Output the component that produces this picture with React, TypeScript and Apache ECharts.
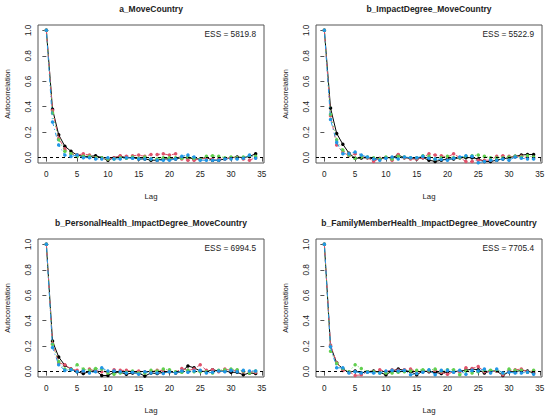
import { useEffect, useRef } from 'react';
import * as echarts from 'echarts';

const FONT = '"Liberation Sans", Arial, sans-serif';

const lags = [0, 1, 2, 3, 4, 5, 6, 7, 8, 9, 10, 11, 12, 13, 14, 15, 16, 17, 18, 19, 20, 21, 22, 23, 24, 25, 26, 27, 28, 29, 30, 31, 32, 33, 34];
const xTicks = [0, 5, 10, 15, 20, 25, 30, 35];
const yTicks = [0, 0.2, 0.4, 0.6, 0.8, 1.0];

const titles = [
  'a_MoveCountry',
  'b_ImpactDegree_MoveCountry',
  'b_PersonalHealth_ImpactDegree_MoveCountry',
  'b_FamilyMemberHealth_ImpactDegree_MoveCountry',
];
const essValues = ['5819.8', '5522.9', '6994.5', '7705.4'];

// a_MoveCountry
const moveBlack = [1, 0.38, 0.18, 0.09, 0.05, 0.02, 0.01, 0.01, 0.015, 0, -0.02, 0, 0.01, 0, 0, -0.01, -0.01, -0.02, -0.02, -0.01, -0.01, -0.01, 0, 0, -0.01, -0.01, 0, -0.02, -0.02, -0.01, 0, 0.005, 0, 0.01, 0.03];
const moveRed = [1, 0.37, 0.15, 0.07, 0.03, 0.02, 0.03, 0.02, 0, -0.005, -0.01, 0, 0.015, 0.01, 0.015, 0.02, 0.01, 0.025, 0.025, 0.03, 0.02, 0.03, -0.01, -0.02, -0.02, -0.01, -0.005, -0.01, -0.01, -0.01, 0, 0, -0.01, -0.02, 0];
const moveGreen = [1, 0.35, 0.14, 0.05, 0.03, 0.01, 0.01, 0.01, 0, 0, -0.01, -0.01, 0, -0.005, 0.005, -0.005, 0.005, -0.01, -0.01, 0, 0, 0, -0.005, 0.005, -0.005, -0.01, 0.01, 0.015, 0.01, 0, 0.005, 0, 0.005, 0.01, 0.01];
const moveBlue = [1, 0.28, 0.1, 0.02, 0.01, 0.02, 0, 0, -0.01, -0.01, 0, -0.01, -0.01, 0, -0.005, -0.01, -0.01, -0.01, -0.02, -0.02, -0.02, -0.01, 0.01, 0.02, 0.005, -0.02, -0.02, -0.02, -0.02, -0.01, -0.01, -0.01, -0.005, 0.02, -0.005];

// b_ImpactDegree_MoveCountry
const impactBlack = [1, 0.39, 0.19, 0.105, 0.035, -0.005, -0.003, 0, -0.01, -0.01, 0, 0, 0.02, 0, -0.005, -0.01, 0, -0.02, -0.03, -0.02, -0.01, -0.01, 0, 0, 0, -0.01, -0.03, -0.03, -0.02, -0.01, 0, 0.01, 0.02, 0.025, 0.025];
const impactRed = [1, 0.33, 0.1, 0.045, 0.015, 0.03, 0.01, 0, -0.03, -0.005, 0, -0.02, 0.025, 0, -0.01, -0.01, 0, 0.03, 0.02, 0.015, 0.005, 0.03, 0, -0.03, -0.03, -0.02, -0.02, -0.02, 0.01, 0.015, 0.01, 0.005, 0.01, 0, 0];
const impactGreen = [1, 0.34, 0.14, 0.06, 0.02, -0.005, 0.005, 0.005, 0, -0.01, 0.005, -0.01, 0.01, 0.005, 0, 0, 0.015, 0.01, -0.01, 0, 0.01, 0, 0, 0.01, 0.015, 0.02, 0.01, 0, 0, 0, 0.005, 0.01, 0.005, 0.015, 0.005];
const impactBlue = [1, 0.3, 0.12, 0.03, 0.03, 0.045, 0.02, 0.005, -0.01, -0.02, -0.005, 0.005, -0.01, 0.005, 0, 0, 0.01, -0.005, -0.01, -0.015, -0.02, -0.005, 0.005, 0.015, 0.01, -0.04, -0.03, -0.02, -0.02, -0.01, -0.02, 0.005, -0.005, -0.01, -0.01];

// b_PersonalHealth_ImpactDegree_MoveCountry
const personalBlack = [1, 0.24, 0.115, 0.05, 0.02, 0, -0.015, 0, 0.01, -0.03, -0.03, -0.005, -0.005, -0.02, -0.01, -0.01, -0.035, -0.01, -0.015, -0.005, 0, -0.01, 0, 0.045, 0.03, 0.005, 0, 0.015, 0.005, 0.005, -0.005, -0.005, -0.025, -0.01, -0.015];
const personalRed = [1, 0.22, 0.07, 0.055, 0.02, 0.01, 0.005, 0.02, 0.005, 0, -0.005, 0.015, 0.01, 0.01, 0, 0.005, 0, 0, 0.01, 0.01, 0.005, -0.005, 0.025, 0.01, 0.02, 0.055, 0.01, 0.015, 0, 0.02, 0.01, 0.01, 0, 0, -0.005];
const personalGreen = [1, 0.215, 0.08, 0.02, 0.015, 0.055, 0.02, 0.01, 0.025, 0.02, -0.01, -0.02, -0.01, -0.005, 0.005, -0.01, -0.01, 0.01, 0.005, 0.02, 0.015, 0, -0.005, 0.01, 0, 0, 0, -0.01, 0.01, 0.015, 0.02, 0.015, 0.005, -0.01, 0.005];
const personalBlue = [1, 0.19, 0.055, 0.01, 0.015, 0, 0.005, -0.01, 0, 0.03, 0.005, 0.005, 0, -0.01, -0.005, -0.02, 0, -0.01, -0.01, -0.015, 0, -0.01, 0.005, -0.005, 0.005, 0.01, -0.01, -0.005, 0.005, 0, 0.01, 0, 0.01, 0.005, 0.005];

// b_FamilyMemberHealth_ImpactDegree_MoveCountry
const familyBlack = [1, 0.2, 0.07, 0.02, -0.005, 0.005, -0.01, 0, 0.005, -0.005, -0.025, 0.005, 0.02, 0.01, 0, -0.025, 0.005, 0, -0.005, -0.015, 0, 0, 0.005, 0.01, 0.02, 0.015, -0.01, 0.005, 0.005, -0.03, 0, 0, 0.01, 0.005, -0.01];
const familyRed = [1, 0.21, 0.07, 0.01, 0, -0.03, -0.025, 0, 0, 0.015, 0, 0.015, 0.01, 0.015, 0.02, 0, 0, 0.005, 0.01, -0.005, -0.02, 0, 0, 0.03, 0.025, 0.04, 0, 0, 0.005, -0.025, 0.005, 0.015, 0.02, 0, 0.005];
const familyGreen = [1, 0.16, 0.065, 0.025, 0, 0.055, 0.025, 0, 0, -0.01, -0.01, -0.01, -0.005, 0, 0.005, 0.01, 0.015, 0.01, 0.02, 0.005, 0.015, 0.015, -0.025, 0.005, -0.01, 0, 0.01, 0.01, 0.01, -0.01, 0.02, 0.01, 0.01, -0.005, 0.01];
const familyBlue = [1, 0.195, 0.03, 0.03, -0.01, 0, -0.01, -0.005, -0.01, -0.01, 0.005, 0.01, 0.005, 0.01, -0.025, -0.015, -0.005, 0.015, -0.025, 0.01, 0.01, -0.005, 0.01, -0.02, 0.01, 0.005, 0.02, -0.01, 0.02, -0.01, -0.005, -0.01, -0.01, -0.005, -0.02];

const panelData = [
  [moveBlack, moveRed, moveGreen, moveBlue],
  [impactBlack, impactRed, impactGreen, impactBlue],
  [personalBlack, personalRed, personalGreen, personalBlue],
  [familyBlack, familyRed, familyGreen, familyBlue],
];

const chainStyles = [
  { color: '#000000', type: 'solid' as any },
  { color: '#DF536B', type: [4, 4] },
  { color: '#61D04F', type: [1, 3] },
  { color: '#2297E6', type: [1, 3, 4, 3] },
];

const GRID_W = 226;
const GRID_H = 138;
const gridPos = [
  [38, 25],
  [316, 25],
  [38, 239],
  [316, 239],
];

export default function App() {
  const chartRef = useRef<HTMLDivElement>(null);

  useEffect(() => {
    if (!chartRef.current) return;
    document.body.style.margin = '0';
    const chart = echarts.init(chartRef.current, null, { renderer: 'svg' });

    const grids = gridPos.map(([left, top]) => ({
      left,
      top,
      width: GRID_W,
      height: GRID_H,
      show: true,
      borderColor: '#555',
      borderWidth: 1,
      backgroundColor: 'transparent',
    }));

    const xAxes = gridPos.map((_, i) => ({
      type: 'value',
      gridIndex: i,
      min: -1.36,
      max: 35.36,
      name: 'Lag',
      nameLocation: 'middle',
      nameGap: 29,
      nameTextStyle: { fontFamily: FONT, fontSize: 7.8, color: '#222' },
      axisLine: { show: false },
      axisTick: { show: true, customValues: xTicks, length: 4, lineStyle: { color: '#555' } },
      axisLabel: { customValues: xTicks, fontFamily: FONT, fontSize: 8.2, color: '#222', margin: 7.5 },
      splitLine: { show: false },
    }));

    const yAxes = gridPos.map((_, i) => ({
      type: 'value',
      gridIndex: i,
      min: -0.042,
      max: 1.042,
      name: 'Autocorrelation',
      nameLocation: 'middle',
      nameGap: 27,
      nameTextStyle: { fontFamily: FONT, fontSize: 7.4, color: '#222' },
      axisLine: { show: false },
      axisTick: { show: true, customValues: yTicks, length: 4, lineStyle: { color: '#555' } },
      axisLabel: {
        customValues: yTicks,
        rotate: 90,
        fontFamily: FONT,
        fontSize: 8.2,
        color: '#222',
        margin: 5.5,
        formatter: (v: number) => v.toFixed(1),
      },
      splitLine: { show: false },
    }));

    const series: any[] = [];
    panelData.forEach((chains, p) => {
      chains.forEach((vals, c) => {
        const st = chainStyles[c];
        series.push({
          type: 'line',
          xAxisIndex: p,
          yAxisIndex: p,
          data: lags.map((l, j) => [l, vals[j]]),
          symbol: 'circle',
          symbolSize: 3.5,
          showSymbol: true,
          itemStyle: { color: st.color },
          lineStyle: { color: st.color, width: 1, type: st.type },
          z: 2 + c,
          markLine:
            c === 0
              ? {
                  silent: true,
                  symbol: ['none', 'none'],
                  label: { show: false },
                  lineStyle: { color: '#000', width: 1, type: [3, 3] },
                  data: [{ yAxis: 0 }],
                }
              : undefined,
        });
      });
    });

    const graphic: any[] = [];
    gridPos.forEach(([left, top], i) => {
      graphic.push({
        type: 'text',
        x: left + GRID_W / 2,
        y: top - 16,
        style: {
          text: titles[i],
          fontFamily: FONT,
          fontSize: 8.5,
          fontWeight: 'bold',
          fill: '#222',
          textAlign: 'center',
          textVerticalAlign: 'middle',
        },
      });
      graphic.push({
        type: 'text',
        x: left + GRID_W - 8,
        y: top + 8.5,
        style: {
          text: 'ESS = ' + essValues[i],
          fontFamily: FONT,
          fontSize: 8.3,
          fill: '#222',
          textAlign: 'right',
          textVerticalAlign: 'middle',
        },
      });
    });

    chart.setOption({
      animation: false,
      backgroundColor: '#ffffff',
      grid: grids,
      xAxis: xAxes,
      yAxis: yAxes,
      series,
      graphic,
    });

    return () => {
      chart.dispose();
    };
  }, []);

  return <div ref={chartRef} style={{ width: 550, height: 415 }} />;
}
